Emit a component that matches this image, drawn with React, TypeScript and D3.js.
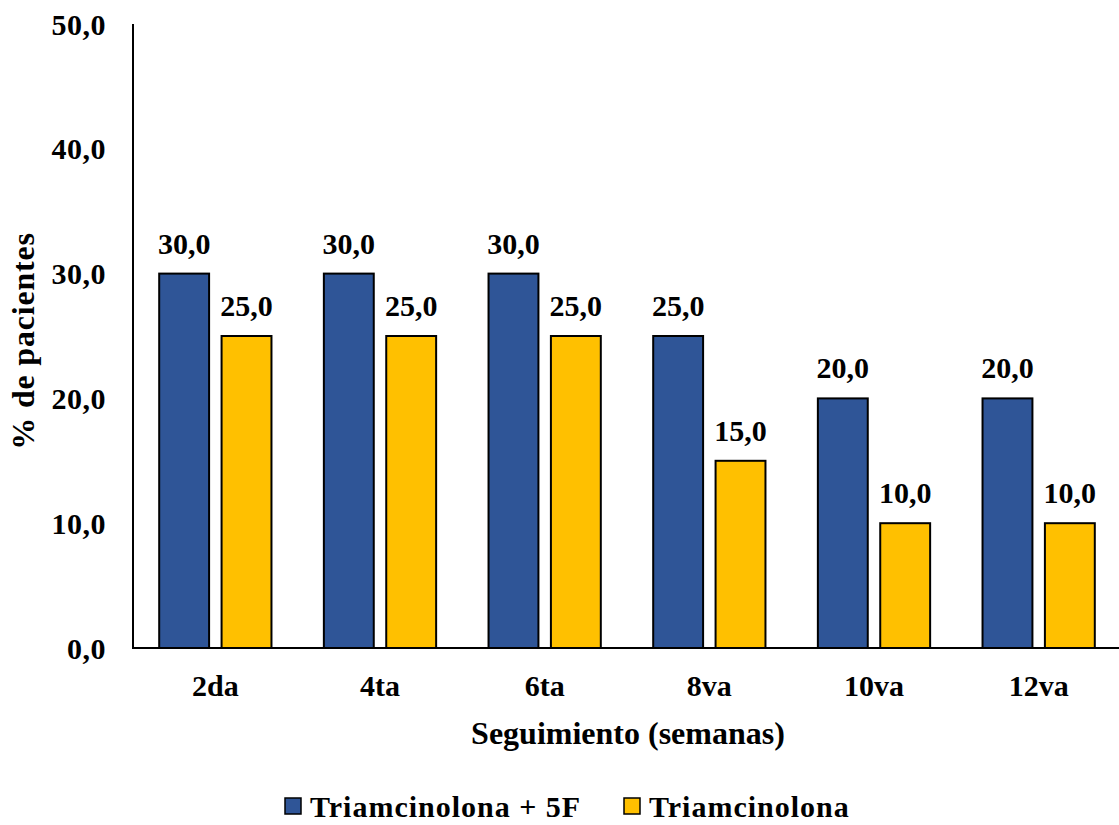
import React from "react";
import * as d3 from "d3";

const categories = ["2da", "4ta", "6ta", "8va", "10va", "12va"];
const seriesNames = ["Triamcinolona + 5F", "Triamcinolona"];
const triamcinolona5F = [30, 30, 30, 25, 20, 20];
const triamcinolona = [25, 25, 25, 15, 10, 10];
const yTicks = [0, 10, 20, 30, 40, 50];
const colors = ["#2F5597", "#FFC000"];

const W = 1119;
const H = 825;
const FONT = "'Liberation Serif', 'Times New Roman', serif";

const fmt = (v: number) => v.toFixed(1).replace(".", ",");

export default function App() {
  const x = d3.scaleBand<string>().domain(categories).range([133, 1121]).paddingInner(0).paddingOuter(0);
  const inner = d3
    .scaleBand<number>()
    .domain([0, 1])
    .range([0, x.bandwidth()])
    .paddingInner(0.2)
    .paddingOuter(0.42);
  const y = d3.scaleLinear().domain([0, 50]).range([648, 24]);

  const series = [triamcinolona5F, triamcinolona];

  // legend entries laid out left to right
  const legendX = [285, 624];

  return (
    <svg
      width={W}
      height={H}
      style={{ position: "absolute", left: 0, top: 0, background: "#fff" }}
      fontFamily={FONT}
      fontWeight="bold"
    >
      {/* y tick labels */}
      {yTicks.map((t) => (
        <text
          key={t}
          x={106}
          y={y(t)}
          dy="0.35em"
          textAnchor="end"
          fontSize={30}
          letterSpacing={0.5}
          fill="#000"
        >
          {fmt(t)}
        </text>
      ))}

      {/* bars and value labels */}
      {categories.map((c, i) => (
        <g key={c} transform={`translate(${x(c)},0)`}>
          {series.map((s, k) => {
            const bx = inner(k)!;
            const bw = inner.bandwidth();
            return (
              <g key={k}>
                <rect
                  x={bx}
                  y={y(s[i])}
                  width={bw}
                  height={y(0) - y(s[i])}
                  fill={colors[k]}
                  stroke="#000"
                  strokeWidth={2}
                />
                <text
                  x={bx + bw / 2}
                  y={y(s[i]) - 20}
                  textAnchor="middle"
                  fontSize={30}
                  fill="#000"
                >
                  {fmt(s[i])}
                </text>
              </g>
            );
          })}
          <text x={x.bandwidth() / 2} y={696} textAnchor="middle" fontSize={30} fill="#000">
            {c}
          </text>
        </g>
      ))}

      {/* axes */}
      <line x1={133} x2={133} y1={y(50)} y2={y(0) + 1} stroke="#000" strokeWidth={2} />
      <line x1={132} x2={1121} y1={y(0)} y2={y(0)} stroke="#000" strokeWidth={2} />

      {/* axis titles */}
      <text x={628} y={744} textAnchor="middle" fontSize={32} fill="#000">
        Seguimiento (semanas)
      </text>
      <text
        transform={`translate(34,341) rotate(-90)`}
        textAnchor="middle"
        fontSize={32}
        letterSpacing={0.8}
        fill="#000"
      >
        % de pacientes
      </text>

      {/* legend */}
      {seriesNames.map((n, k) => (
        <g key={n} transform={`translate(${legendX[k]},806)`}>
          <rect x={0} y={-8} width={16} height={16} fill={colors[k]} stroke="#000" strokeWidth={1.5} />
          <text x={25} y={0} dy="0.35em" fontSize={30} letterSpacing={1} fill="#000">
            {n}
          </text>
        </g>
      ))}
    </svg>
  );
}
